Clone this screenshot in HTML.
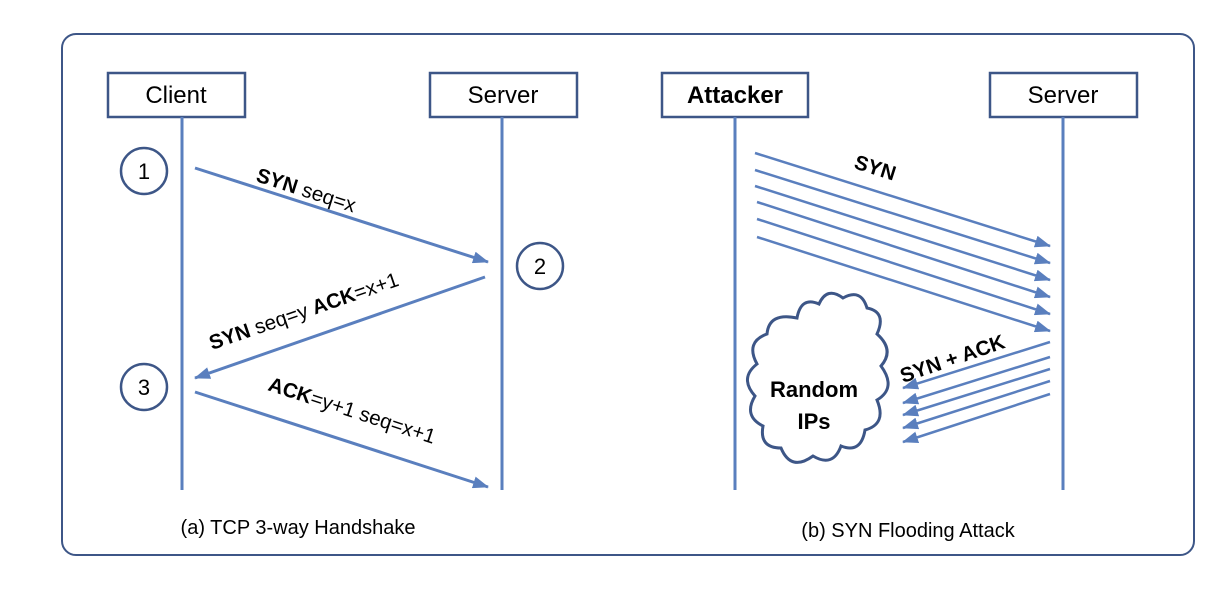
<!DOCTYPE html>
<html><head><meta charset="utf-8"><style>body{margin:0;background:#fff}</style></head><body>
<svg width="1226" height="592" viewBox="0 0 1226 592" xmlns="http://www.w3.org/2000/svg" font-family="Liberation Sans, sans-serif">
<defs>
<marker id="b" markerWidth="16" markerHeight="12" refX="15" refY="6" orient="auto" markerUnits="userSpaceOnUse" viewBox="0 0 16 12">
<path d="M0,0 L16,6 L0,12 Z" fill="#5a7fbe"/></marker>
</defs>
<rect x="62" y="34" width="1132" height="521" rx="14" fill="#fff" stroke="#3d5687" stroke-width="2"/>
<g stroke="#3d5687" stroke-width="2.5" fill="#fff">
<rect x="108" y="73" width="137" height="44"/>
<rect x="430" y="73" width="147" height="44"/>
<rect x="662" y="73" width="146" height="44"/>
<rect x="990" y="73" width="147" height="44"/>
<circle cx="144" cy="171" r="23"/>
<circle cx="540" cy="266" r="23"/>
<circle cx="144" cy="387" r="23"/>
</g>
<g font-size="24" text-anchor="middle" fill="#000">
<text x="176" y="103">Client</text>
<text x="503" y="103">Server</text>
<text x="735" y="103" font-weight="bold">Attacker</text>
<text x="1063" y="103">Server</text>
</g>
<g font-size="22" text-anchor="middle">
<text x="144" y="179">1</text><text x="540" y="274">2</text><text x="144" y="395">3</text>
</g>
<g stroke="#5a7fbe" stroke-width="3" fill="none">
<line x1="182" y1="117" x2="182" y2="490"/>
<line x1="502" y1="117" x2="502" y2="490"/>
<line x1="735" y1="117" x2="735" y2="490"/>
<line x1="1063" y1="117" x2="1063" y2="490"/>
</g>
<g stroke="#5a7fbe" stroke-width="3" marker-end="url(#b)">
<line x1="195" y1="168" x2="488" y2="262"/>
<line x1="485" y1="277" x2="195" y2="378"/>
<line x1="195" y1="392" x2="488" y2="487"/>
</g>
<g stroke="#5a7fbe" stroke-width="2.5" marker-end="url(#b)">
<line x1="755" y1="153" x2="1050" y2="246"/>
<line x1="755" y1="170" x2="1050" y2="263"/>
<line x1="755" y1="186" x2="1050" y2="280"/>
<line x1="757" y1="202" x2="1050" y2="297"/>
<line x1="757" y1="219" x2="1050" y2="314"/>
<line x1="757" y1="237" x2="1050" y2="331"/>
<line x1="1050" y1="342" x2="903" y2="388"/>
<line x1="1050" y1="357" x2="903" y2="403"/>
<line x1="1050" y1="369" x2="903" y2="415"/>
<line x1="1050" y1="381" x2="903" y2="428"/>
<line x1="1050" y1="394" x2="903" y2="442"/>
</g>
<g font-size="20.5" fill="#000">
<text transform="translate(255,181) rotate(17.8)"><tspan font-weight="bold">SYN</tspan>  seq=x</text>
<text transform="translate(212,350) rotate(-19)"><tspan font-weight="bold">SYN</tspan>  seq=y <tspan font-weight="bold">ACK</tspan>=x+1</text>
<text transform="translate(267,390) rotate(18)"><tspan font-weight="bold">ACK</tspan>=y+1 seq=x+1</text>
<text font-weight="bold" transform="translate(853,168) rotate(17.5)">SYN</text>
<text font-weight="bold" transform="translate(903,383) rotate(-19)">SYN + ACK</text>
</g>
<path d="M797,318 q4,-22 22,-14 q8,-18 24,-6 q18,-10 24,10 q20,4 10,26 q18,16 4,32 q16,22 -4,34 q10,24 -12,30 q-4,24 -24,16 q-8,22 -28,10 q-22,16 -32,-8 q-22,0 -18,-22 q-20,-10 -8,-30 q-16,-18 2,-32 q-12,-22 10,-30 q2,-22 30,-16 z" fill="#fff" stroke="#3d5687" stroke-width="3"/>
<g font-size="22" font-weight="bold" text-anchor="middle">
<text x="814" y="397">Random</text><text x="814" y="429">IPs</text>
</g>
<g font-size="20" text-anchor="middle">
<text x="298" y="534">(a) TCP 3-way Handshake</text>
<text x="908" y="537">(b) SYN Flooding Attack</text>
</g>
</svg>
</body></html>
